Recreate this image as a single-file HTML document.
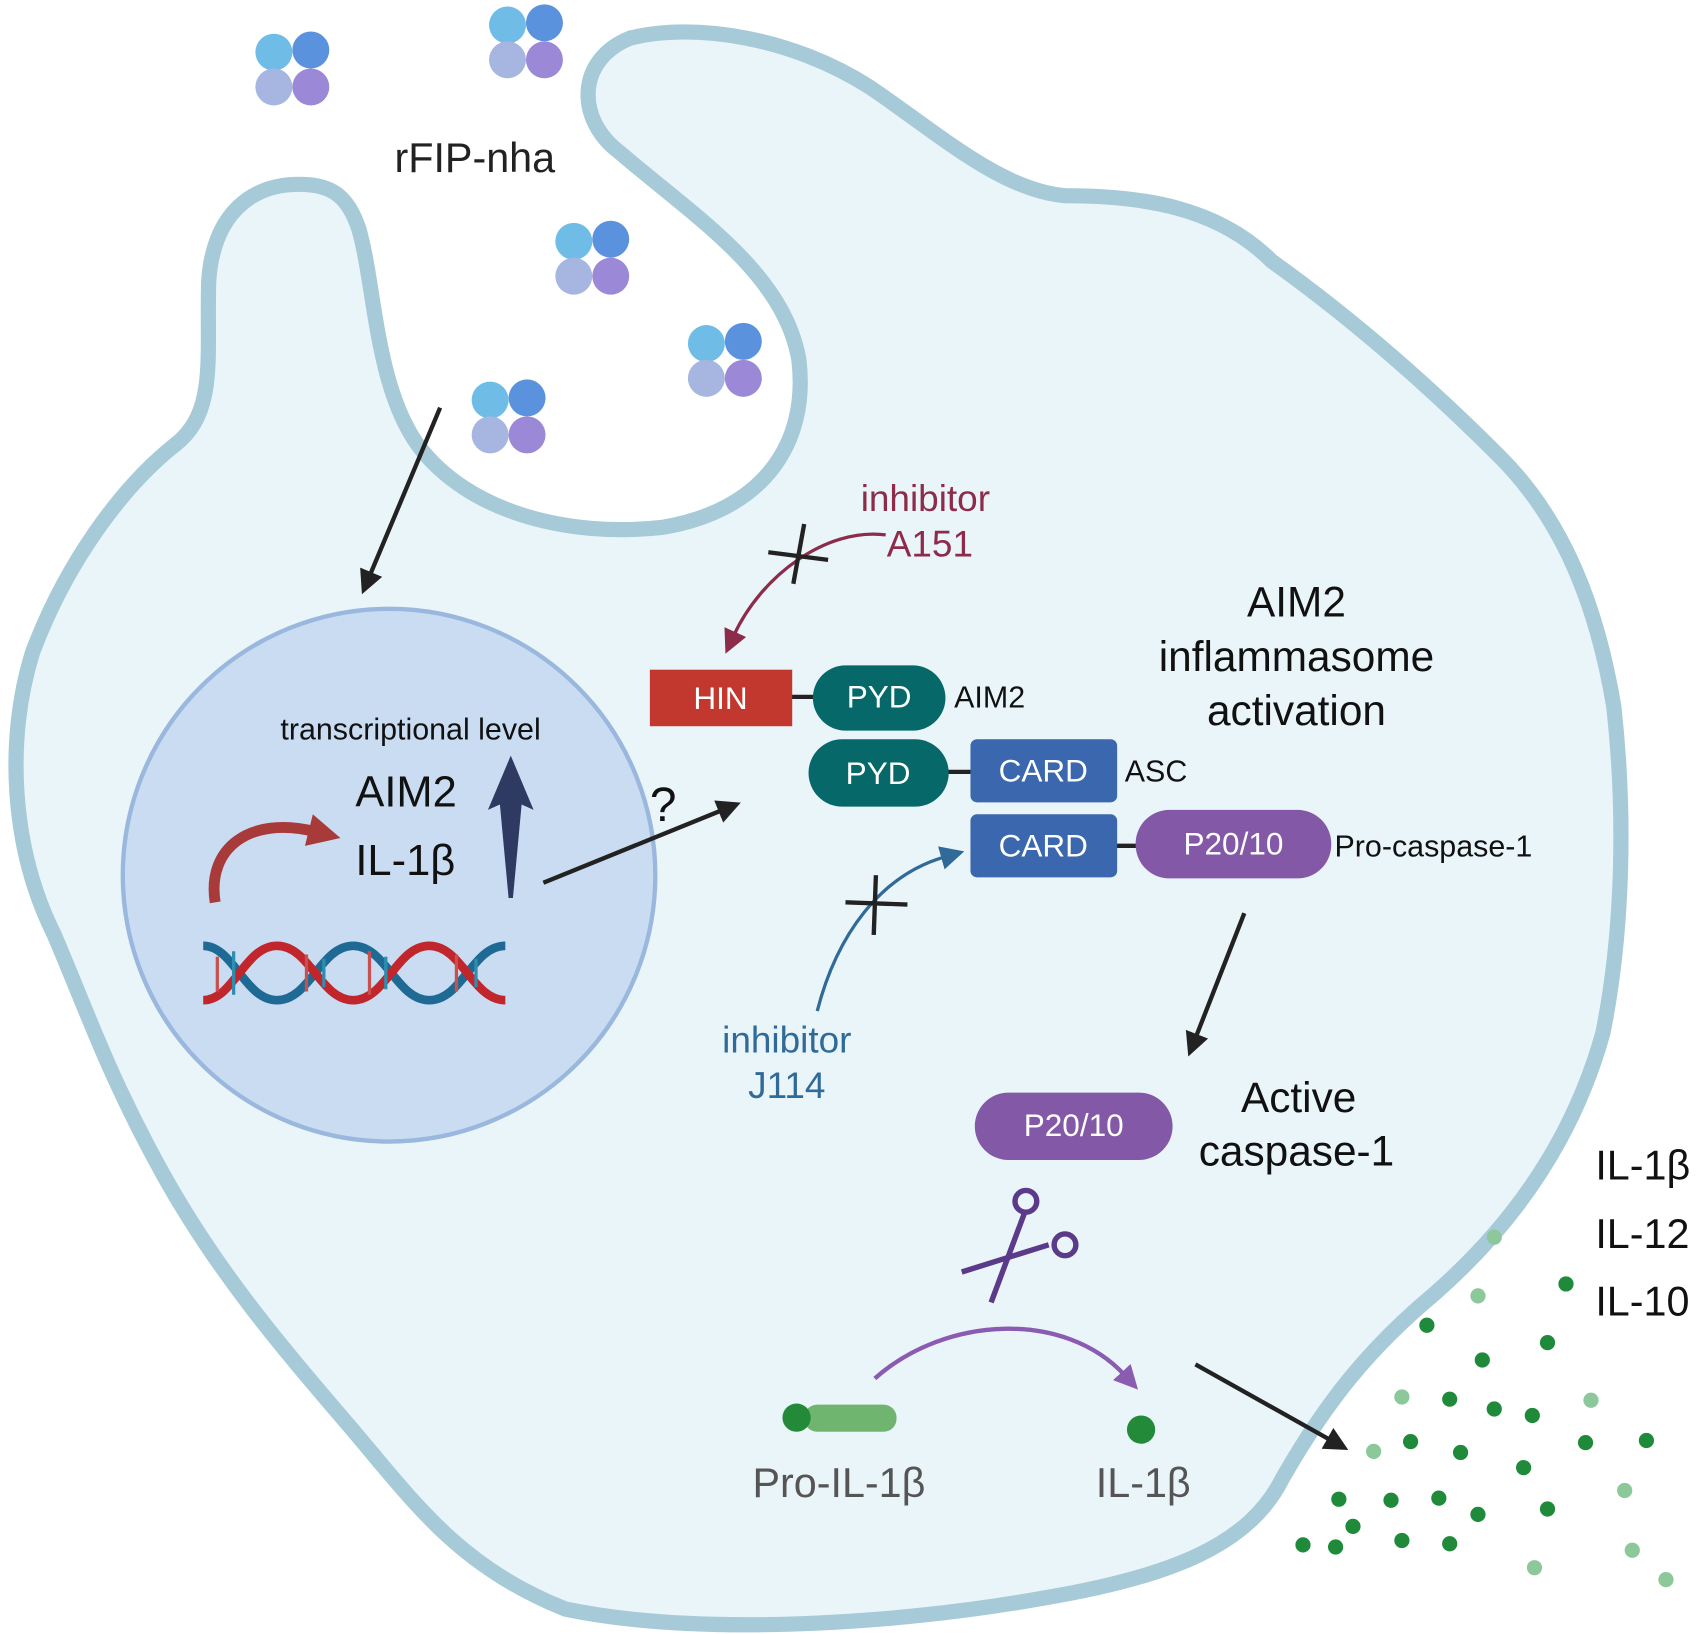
<!DOCTYPE html>
<html><head><meta charset="utf-8"><style>
html,body{margin:0;padding:0;background:#fff;}
svg{display:block;}
text{font-family:"Liberation Sans",sans-serif;}
</style></head><body>
<svg width="1704" height="1634" viewBox="0 0 1568 1503" preserveAspectRatio="none" xmlns="http://www.w3.org/2000/svg">
<defs>
<marker id="ar" markerWidth="22" markerHeight="22" refX="4" refY="11" orient="auto" markerUnits="userSpaceOnUse"><path d="M0,0 L22,11 L0,22 z" fill="#222"/></marker>
<marker id="am" markerWidth="22" markerHeight="22" refX="4" refY="11" orient="auto" markerUnits="userSpaceOnUse"><path d="M0,0 L22,11 L0,22 z" fill="#8c2b4a"/></marker>
<marker id="abl" markerWidth="22" markerHeight="22" refX="4" refY="11" orient="auto" markerUnits="userSpaceOnUse"><path d="M0,0 L22,11 L0,22 z" fill="#2f6a98"/></marker>
<marker id="ap" markerWidth="22" markerHeight="22" refX="4" refY="11" orient="auto" markerUnits="userSpaceOnUse"><path d="M0,0 L22,11 L0,22 z" fill="#8a5bb0"/></marker>
<marker id="ared" markerWidth="30" markerHeight="30" refX="6" refY="15" orient="auto" markerUnits="userSpaceOnUse"><path d="M0,0 L30,15 L0,30 z" fill="#a83a3a"/></marker>
<g id="pc">
<circle cx="0" cy="0" r="17" fill="#6fbde6"/><circle cx="34" cy="-2" r="17" fill="#5a92de"/>
<circle cx="0" cy="32" r="17" fill="#a6b6e0"/><circle cx="34" cy="32" r="17" fill="#9b88d6"/>
</g>
</defs>
<!-- cell -->
<path d="M285,170 C230,165 195,200 192,260 C190,330 200,380 160,410 C110,450 60,520 30,600 C5,680 10,780 50,860 C80,930 100,990 150,1080 C200,1170 260,1240 320,1310 C380,1380 420,1440 520,1480 C640,1505 820,1495 960,1470 C1080,1450 1150,1420 1180,1360 C1220,1290 1260,1240 1320,1190 C1400,1120 1450,1040 1475,950 C1495,850 1495,740 1485,650 C1470,560 1440,480 1380,420 C1310,350 1240,290 1170,240 C1120,190 1050,180 980,180 C920,175 860,120 800,80 C730,35 640,20 580,35 C530,55 530,110 570,140 C640,200 720,250 735,330 C745,410 700,470 610,485 C520,495 430,470 385,410 C345,355 345,260 330,210 C320,180 305,172 285,170 Z" fill="#eaf5fa" stroke="#a6cad7" stroke-width="14"/>
<!-- nucleus -->
<circle cx="358" cy="805" r="245" fill="#cadcf1" stroke="#9ab7de" stroke-width="4"/>
<use href="#pc" x="252" y="48"/><use href="#pc" x="467" y="23"/><use href="#pc" x="528" y="222"/>
<use href="#pc" x="650" y="316"/><use href="#pc" x="451" y="368"/>
<text x="363" y="158" font-size="38" fill="#222">rFIP-nha</text>
<line x1="405" y1="375" x2="340" y2="530" stroke="#222" stroke-width="4" marker-end="url(#ar)"/>
<text x="258" y="680" font-size="28" fill="#111">transcriptional level</text>
<text x="327" y="742" font-size="40" fill="#111">AIM2</text>
<text x="327" y="805" font-size="40" fill="#111">IL-1β</text>
<path d="M470,695 L491,745 L480,740 L472,826 L468,826 L460,740 L449,745 Z" fill="#2f3a62"/>
<path d="M198,830 C190,780 230,750 290,765" stroke="#a83a3a" stroke-width="10" fill="none" marker-end="url(#ared)"/>
<g stroke-width="8" fill="none">
<path d="M187,870 C215,870 225,920 255,920 C285,920 295,870 325,870 C355,870 365,920 395,920 C425,920 435,870 465,870" stroke="#1f6a95"/>
<path d="M187,920 C215,920 225,870 255,870 C285,870 295,920 325,920 C355,920 365,870 395,870 C425,870 435,920 465,920" stroke="#c0262c"/>
</g>
<g stroke-width="3">
<line x1="200" y1="880" x2="200" y2="912" stroke="#c8514f"/><line x1="215" y1="875" x2="215" y2="915" stroke="#2d8fb0"/>
<line x1="282" y1="878" x2="282" y2="912" stroke="#c8514f"/><line x1="298" y1="882" x2="298" y2="908" stroke="#2d8fb0"/>
<line x1="340" y1="875" x2="340" y2="915" stroke="#c8514f"/><line x1="355" y1="880" x2="355" y2="910" stroke="#2d8fb0"/>
<line x1="420" y1="878" x2="420" y2="912" stroke="#c8514f"/><line x1="438" y1="882" x2="438" y2="908" stroke="#2d8fb0"/>
</g>
<text x="598" y="755" font-size="44" fill="#111">?</text>
<line x1="500" y1="812" x2="665" y2="745" stroke="#222" stroke-width="4" marker-end="url(#ar)"/>
<text x="792" y="470" font-size="34" fill="#8c2b4a">inhibitor</text>
<text x="816" y="512" font-size="34" fill="#8c2b4a">A151</text>
<path d="M815,492 C760,485 700,530 675,585" stroke="#8c2b4a" stroke-width="3" fill="none" marker-end="url(#am)"/>
<line x1="707" y1="508" x2="762" y2="515" stroke="#222" stroke-width="4"/>
<line x1="740" y1="482" x2="730" y2="537" stroke="#222" stroke-width="4"/>
<line x1="725" y1="641" x2="755" y2="641" stroke="#222" stroke-width="4"/>
<rect x="598" y="616" width="131" height="52" fill="#c2382f"/>
<text x="663" y="652" font-size="29" fill="#fff" text-anchor="middle">HIN</text>
<rect x="748" y="612" width="122" height="60" rx="30" fill="#066868"/>
<text x="809" y="651" font-size="29" fill="#fff" text-anchor="middle">PYD</text>
<text x="878" y="651" font-size="28" fill="#111">AIM2</text>
<line x1="870" y1="710" x2="895" y2="710" stroke="#222" stroke-width="4"/>
<rect x="744" y="680" width="129" height="62" rx="31" fill="#066868"/>
<text x="808" y="721" font-size="29" fill="#fff" text-anchor="middle">PYD</text>
<rect x="893" y="680" width="135" height="58" rx="6" fill="#3a67ad"/>
<text x="960" y="719" font-size="29" fill="#fff" text-anchor="middle">CARD</text>
<text x="1035" y="719" font-size="28" fill="#111">ASC</text>
<line x1="1025" y1="778" x2="1050" y2="778" stroke="#222" stroke-width="4"/>
<rect x="893" y="749" width="135" height="58" rx="6" fill="#3a67ad"/>
<text x="960" y="788" font-size="29" fill="#fff" text-anchor="middle">CARD</text>
<rect x="1045" y="745" width="180" height="63" rx="31" fill="#8358a6"/>
<text x="1135" y="786" font-size="29" fill="#fff" text-anchor="middle">P20/10</text>
<text x="1228" y="788" font-size="28" fill="#111">Pro-caspase-1</text>
<text x="1193" y="567" font-size="39" fill="#111" text-anchor="middle">AIM2</text>
<text x="1193" y="617" font-size="39" fill="#111" text-anchor="middle">inflammasome</text>
<text x="1193" y="667" font-size="39" fill="#111" text-anchor="middle">activation</text>
<path d="M752,930 C770,860 810,805 870,788" stroke="#2f6a98" stroke-width="3" fill="none" marker-end="url(#abl)"/>
<line x1="778" y1="830" x2="835" y2="832" stroke="#222" stroke-width="4"/>
<line x1="806" y1="805" x2="804" y2="860" stroke="#222" stroke-width="4"/>
<text x="724" y="968" font-size="34" fill="#2f6a98" text-anchor="middle">inhibitor</text>
<text x="724" y="1010" font-size="34" fill="#2f6a98" text-anchor="middle">J114</text>
<line x1="1145" y1="840" x2="1100" y2="955" stroke="#222" stroke-width="4" marker-end="url(#ar)"/>
<rect x="897" y="1005" width="182" height="62" rx="31" fill="#8358a6"/>
<text x="988" y="1045" font-size="29" fill="#fff" text-anchor="middle">P20/10</text>
<text x="1195" y="1023" font-size="39" fill="#111" text-anchor="middle">Active</text>
<text x="1193" y="1072" font-size="39" fill="#111" text-anchor="middle">caspase-1</text>
<g stroke="#5b3a8a" stroke-width="5" fill="none">
<line x1="885" y1="1170" x2="965" y2="1145"/>
<line x1="912" y1="1198" x2="943" y2="1115"/>
<circle cx="944" cy="1105" r="10"/><circle cx="980" cy="1145" r="10"/>
</g>
<path d="M805,1268 C870,1210 980,1205 1035,1265" stroke="#8a5bb0" stroke-width="4" fill="none" marker-end="url(#ap)"/>
<rect x="740" y="1292" width="85" height="25" rx="12" fill="#6fb56f"/>
<circle cx="733" cy="1304" r="13" fill="#238a3a"/>
<circle cx="1050" cy="1315" r="13" fill="#238a3a"/>
<text x="772" y="1377" font-size="38" fill="#555" text-anchor="middle">Pro-IL-1β</text>
<text x="1052" y="1377" font-size="38" fill="#555" text-anchor="middle">IL-1β</text>
<line x1="1100" y1="1255" x2="1225" y2="1325" stroke="#222" stroke-width="4" marker-end="url(#ar)"/>
<text x="1468" y="1085" font-size="38" fill="#111">IL-1β</text>
<text x="1468" y="1148" font-size="38" fill="#111">IL-12</text>
<text x="1468" y="1210" font-size="38" fill="#111">IL-10</text>
<g fill="#1f8a3a">
<circle cx="1441" cy="1181" r="7"/><circle cx="1313" cy="1219" r="7"/><circle cx="1424" cy="1235" r="7"/>
<circle cx="1364" cy="1251" r="7"/><circle cx="1334" cy="1287" r="7"/><circle cx="1375" cy="1296" r="7"/>
<circle cx="1410" cy="1302" r="7"/><circle cx="1298" cy="1326" r="7"/><circle cx="1344" cy="1336" r="7"/>
<circle cx="1459" cy="1327" r="7"/><circle cx="1515" cy="1325" r="7"/><circle cx="1402" cy="1350" r="7"/>
<circle cx="1232" cy="1379" r="7"/><circle cx="1280" cy="1380" r="7"/><circle cx="1324" cy="1378" r="7"/>
<circle cx="1360" cy="1393" r="7"/><circle cx="1424" cy="1388" r="7"/><circle cx="1245" cy="1404" r="7"/>
<circle cx="1199" cy="1421" r="7"/><circle cx="1229" cy="1423" r="7"/><circle cx="1290" cy="1417" r="7"/>
<circle cx="1334" cy="1420" r="7"/>
</g>
<g fill="#8cc89a">
<circle cx="1375" cy="1138" r="7"/><circle cx="1360" cy="1192" r="7"/><circle cx="1290" cy="1285" r="7"/>
<circle cx="1464" cy="1288" r="7"/><circle cx="1264" cy="1335" r="7"/><circle cx="1495" cy="1371" r="7"/>
<circle cx="1412" cy="1442" r="7"/><circle cx="1502" cy="1426" r="7"/><circle cx="1533" cy="1453" r="7"/>
</g>
</svg>
</body></html>
